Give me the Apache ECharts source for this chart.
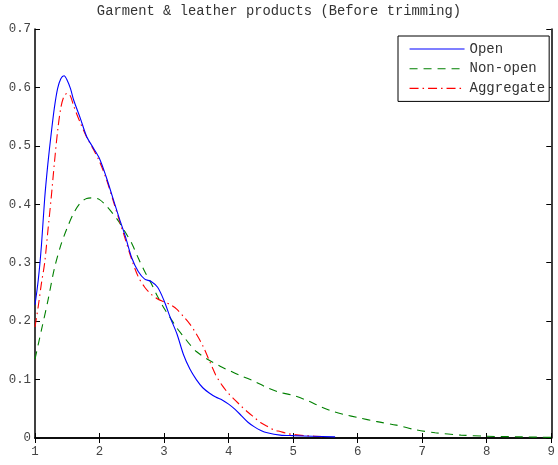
<!DOCTYPE html>
<html>
<head>
<meta charset="utf-8">
<script src="https://cdn.jsdelivr.net/npm/echarts@6/dist/echarts.min.js"></script>
<style>
  html, body { margin: 0; padding: 0; background: #fff; }
  #chart { width: 558px; height: 465px; }
</style>
</head>
<body>
<div id="chart"></div>
<script>
// Density curves
const openX = [1.0, 1.05, 1.1, 1.15, 1.2, 1.25, 1.3, 1.35, 1.4, 1.45, 1.5, 1.55, 1.6, 1.7, 1.8, 1.9, 2.0,
    2.1, 2.2, 2.3, 2.4, 2.5, 2.6, 2.7, 2.8, 2.9, 3.0, 3.1, 3.2, 3.3, 3.4, 3.5, 3.6, 3.7, 3.8, 3.9, 4.0,
    4.1, 4.2, 4.3, 4.4, 4.5, 4.6, 4.8, 5.0, 5.3, 5.65];
const openY = [0.228, 0.27, 0.33, 0.41, 0.47, 0.52, 0.565, 0.598, 0.615, 0.620, 0.612, 0.598, 0.578, 0.548, 0.516, 0.497, 0.478,
    0.448, 0.413, 0.378, 0.345, 0.308, 0.285, 0.272, 0.268, 0.258, 0.235, 0.205, 0.178, 0.143, 0.118, 0.100, 0.086, 0.077, 0.070, 0.065, 0.058,
    0.049, 0.038, 0.027, 0.019, 0.013, 0.009, 0.005, 0.004, 0.003, 0.002];

const nonOpenX = [1.0, 1.1, 1.2, 1.3, 1.4, 1.5, 1.6, 1.7, 1.8, 1.9, 2.0, 2.1, 2.2, 2.3, 2.4, 2.5, 2.6, 2.7, 2.8, 2.9,
    3.0, 3.1, 3.2, 3.3, 3.4, 3.5, 3.6, 3.7, 3.8, 3.9, 4.0, 4.2, 4.4, 4.6, 4.8, 5.0, 5.2, 5.4, 5.6, 5.8,
    6.0, 6.3, 6.6, 6.9, 7.2, 7.6, 8.0, 8.5, 9.0];
const nonOpenY = [0.135, 0.185, 0.235, 0.29, 0.33, 0.36, 0.385, 0.402, 0.41, 0.411, 0.408, 0.398, 0.385, 0.37, 0.352, 0.333, 0.308, 0.285, 0.265, 0.242,
    0.222, 0.205, 0.188, 0.174, 0.16, 0.148, 0.14, 0.133, 0.127, 0.121, 0.116, 0.106, 0.097, 0.086, 0.078, 0.073, 0.065, 0.055, 0.046, 0.040,
    0.035, 0.028, 0.022, 0.014, 0.009, 0.005, 0.003, 0.002, 0.001];

const aggX = [1.0, 1.05, 1.1, 1.15, 1.2, 1.25, 1.3, 1.35, 1.4, 1.45, 1.5, 1.55, 1.6, 1.7, 1.8, 1.9, 2.0,
    2.1, 2.2, 2.3, 2.4, 2.5, 2.6, 2.7, 2.8, 2.9, 3.0, 3.1, 3.2, 3.3, 3.4, 3.5, 3.6, 3.7, 3.8, 3.9, 4.0,
    4.1, 4.2, 4.3, 4.4, 4.5, 4.6, 4.7, 4.8, 4.9, 5.0, 5.2, 5.5];
const aggY = [0.19, 0.225, 0.265, 0.30, 0.355, 0.41, 0.47, 0.525, 0.565, 0.585, 0.59, 0.585, 0.568, 0.54, 0.515, 0.495, 0.473,
    0.445, 0.41, 0.375, 0.34, 0.305, 0.276, 0.258, 0.246, 0.238, 0.233, 0.228, 0.220, 0.208, 0.195, 0.178, 0.158, 0.133, 0.108, 0.090, 0.076,
    0.065, 0.054, 0.044, 0.035, 0.026, 0.020, 0.014, 0.011, 0.008, 0.006, 0.004, 0.002];

const seriesNames = ['Open', 'Non-open', 'Aggregate'];

const MONO = '"Liberation Mono", "Courier New", monospace';

function pairs(xs, ys) {
    return xs.map((x, i) => [x, ys[i]]);
}

const chart = echarts.init(document.getElementById('chart'), null, { renderer: 'canvas' });

const tickStyle = { show: true, inside: true, length: 5, lineStyle: { color: '#000', width: 1 } };
const lineStyleAxis = { show: true, lineStyle: { color: '#000', width: 1.5 } };

const option = {
    animation: false,
    backgroundColor: '#fff',
    title: {
        text: 'Garment & leather products (Before trimming)',
        left: 'center',
        top: 4,
        padding: 0,
        textStyle: { fontFamily: MONO, fontSize: 13.8, fontWeight: 'normal', color: '#333' }
    },
    legend: {
        data: seriesNames,
        orient: 'vertical',
        left: 398,
        top: 36,
        padding: [6, 4, 6, 11],
        itemWidth: 55,
        itemHeight: 14,
        itemGap: 5.7,
        borderColor: '#000',
        borderWidth: 1,
        backgroundColor: '#fff',
        // hide the marker dot, keep only the line sample
        itemStyle: { color: 'transparent', borderColor: 'transparent', borderWidth: 0, opacity: 0 },
        lineStyle: { width: 1.1 },
        textStyle: { fontFamily: MONO, fontSize: 14, color: '#333' }
    },
    grid: { left: 35, right: 4, top: 29, bottom: 27, containLabel: false },
    xAxis: [
        {
            type: 'value', min: 1, max: 9, interval: 1,
            axisLine: lineStyleAxis, axisTick: tickStyle, splitLine: { show: false },
            axisLabel: { margin: 8, fontFamily: MONO, fontSize: 12.4, color: '#444' }
        },
        {
            type: 'value', min: 1, max: 9, interval: 1, position: 'top',
            axisLine: lineStyleAxis, axisTick: tickStyle, splitLine: { show: false },
            axisLabel: { show: false }
        }
    ],
    yAxis: [
        {
            type: 'value', min: 0, max: 0.7, interval: 0.1,
            axisLine: lineStyleAxis, axisTick: tickStyle, splitLine: { show: false },
            axisLabel: {
                margin: 4, fontFamily: MONO, fontSize: 12.4, color: '#444',
                formatter: v => (v === 0 ? '0' : v.toFixed(1))
            }
        },
        {
            type: 'value', min: 0, max: 0.7, interval: 0.1, position: 'right',
            axisLine: lineStyleAxis, axisTick: tickStyle, splitLine: { show: false },
            axisLabel: { show: false }
        }
    ],
    series: [
        {
            name: 'Open', type: 'line', smooth: 0.3, symbol: 'none',
            data: pairs(openX, openY),
            lineStyle: { color: '#0000ff', width: 1.1, type: 'solid' },
            itemStyle: { color: '#0000ff' },
            z: 3
        },
        {
            name: 'Non-open', type: 'line', smooth: 0.3, symbol: 'none',
            data: pairs(nonOpenX, nonOpenY),
            lineStyle: { color: '#008000', width: 1.1, type: [8, 6] },
            itemStyle: { color: '#008000' },
            z: 2
        },
        {
            name: 'Aggregate', type: 'line', smooth: 0.3, symbol: 'none',
            data: pairs(aggX, aggY),
            lineStyle: { color: '#ff0000', width: 1.1, type: [9, 4, 1.5, 4] },
            itemStyle: { color: '#ff0000' },
            z: 2
        }
    ]
};

chart.setOption(option);
</script>
</body>
</html>
